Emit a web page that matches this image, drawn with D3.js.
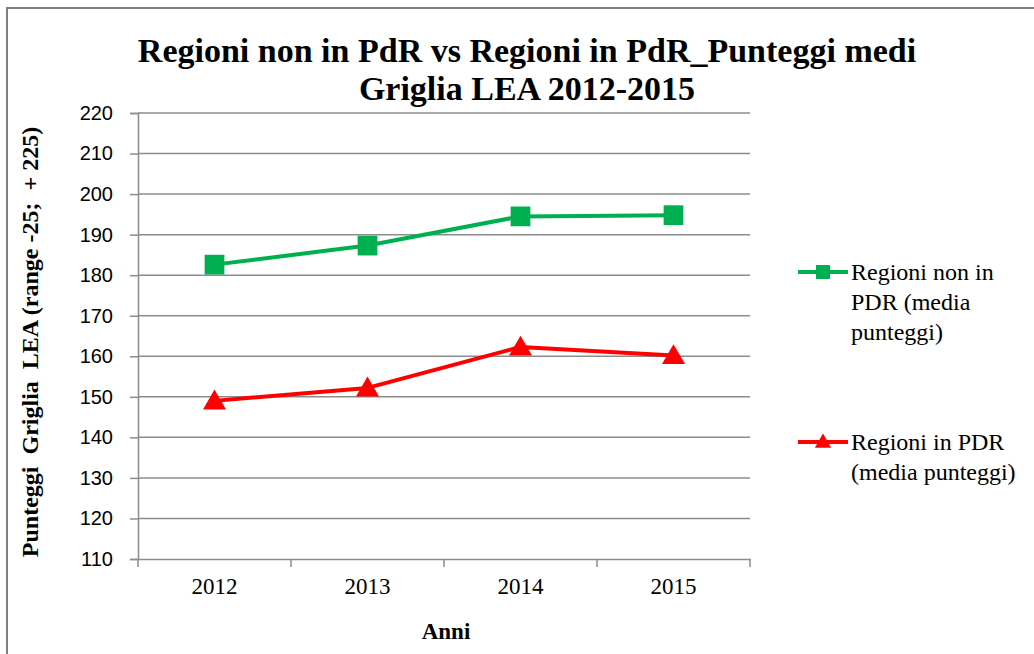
<!DOCTYPE html>
<html>
<head>
<meta charset="utf-8">
<script src="https://cdn.jsdelivr.net/npm/d3@7"></script>
<style>
  body { margin: 0; background: #fff; }
  svg { display: block; }
</style>
</head>
<body>
<div id="chart"></div>
<script>
// Data
const years = ["2012", "2013", "2014", "2015"];
const nonPdr = [182.6, 187.3, 194.5, 194.8];
const inPdr = [149.0, 152.2, 162.3, 160.2];
const yTicks = [110, 120, 130, 140, 150, 160, 170, 180, 190, 200, 210, 220];

const W = 1034, H = 654;
const margin = { top: 113, left: 138, right: 1034 - 750, bottom: 654 - 559 };
const width = W - margin.left - margin.right;
const height = H - margin.top - margin.bottom;

const serifFont = "Liberation Serif";
const sansFont = "Liberation Sans";
const gridColor = "#8c8c8c";

const svg = d3.select("#chart").append("svg")
  .attr("width", W)
  .attr("height", H);

// outer frame
svg.append("rect")
  .attr("x", 7).attr("y", 8)
  .attr("width", W + 10).attr("height", H + 10)
  .attr("fill", "none")
  .attr("stroke", "#808080")
  .attr("stroke-width", 2);

const g = svg.append("g")
  .attr("transform", `translate(${margin.left},${margin.top})`);

const x = d3.scaleBand().domain(years).range([0, width]);
const y = d3.scaleLinear().domain([110, 220]).range([height, 0]);

// horizontal gridlines
g.selectAll(".grid")
  .data(yTicks.filter(d => d !== 110))
  .enter().append("line")
  .attr("class", "grid")
  .attr("x1", 0).attr("x2", width)
  .attr("y1", d => y(d)).attr("y2", d => y(d))
  .attr("stroke", gridColor)
  .attr("stroke-width", 1.5);

// y axis
const yAxis = g.append("g")
  .call(d3.axisLeft(y).tickValues(yTicks).tickSize(8).tickPadding(17));
yAxis.select(".domain").attr("stroke", gridColor).attr("stroke-width", 1.5);
yAxis.selectAll(".tick line").attr("stroke", gridColor).attr("stroke-width", 1.5);
yAxis.selectAll("text")
  .style("font-family", sansFont)
  .style("font-size", "20px")
  .attr("fill", "#000");

// x axis
const xAxis = g.append("g")
  .attr("transform", `translate(0,${height})`)
  .call(d3.axisBottom(x).tickSize(0).tickPadding(19));
xAxis.select(".domain").attr("stroke", gridColor).attr("stroke-width", 1.5);
xAxis.selectAll("text")
  .style("font-family", serifFont)
  .style("font-size", "23px")
  .attr("fill", "#000");
// category boundary ticks
g.selectAll(".xtick")
  .data(years.map(d => x(d)).concat([width]))
  .enter().append("line")
  .attr("x1", d => d).attr("x2", d => d)
  .attr("y1", height).attr("y2", height + 8)
  .attr("stroke", gridColor)
  .attr("stroke-width", 1.5);

const cx = d => x(d) + x.bandwidth() / 2;

const series = [
  { name: ["Regioni non in", "PDR (media", "punteggi)"], values: nonPdr, color: "#00b050", shape: d3.symbolSquare, size: 390, legendY: 272 },
  { name: ["Regioni in PDR", "(media punteggi)"], values: inPdr, color: "#ff0000", shape: d3.symbolTriangle, size: 230, legendY: 442 }
];

const line = d3.line().x((d, i) => cx(years[i])).y(d => y(d));

series.forEach(s => {
  g.append("path")
    .datum(s.values)
    .attr("d", line)
    .attr("fill", "none")
    .attr("stroke", s.color)
    .attr("stroke-width", 4)
    .attr("stroke-linejoin", "round");
  g.selectAll(null)
    .data(s.values)
    .enter().append("path")
    .attr("d", d3.symbol().type(s.shape).size(s.size))
    .attr("transform", (d, i) => `translate(${cx(years[i])},${y(d) + (s.shape === d3.symbolTriangle ? 2 : 0)})`)
    .attr("fill", s.color);

  // legend
  const lg = svg.append("g").attr("transform", `translate(798,${s.legendY})`);
  lg.append("line")
    .attr("x1", 0).attr("x2", 50)
    .attr("stroke", s.color).attr("stroke-width", 4);
  lg.append("path")
    .attr("d", d3.symbol().type(s.shape).size(s.size * 0.5))
    .attr("transform", `translate(25,${s.shape === d3.symbolTriangle ? 1 : 0})`)
    .attr("fill", s.color);
  lg.selectAll("text")
    .data(s.name)
    .enter().append("text")
    .attr("x", 53)
    .attr("y", (d, i) => i * 30 + 8)
    .style("font-family", serifFont)
    .style("font-size", "24px")
    .attr("fill", "#000")
    .text(d => d);
});

// title
const titleLines = ["Regioni non in PdR vs Regioni in PdR_Punteggi medi", "Griglia LEA 2012-2015"];
svg.selectAll(".title")
  .data(titleLines)
  .enter().append("text")
  .attr("class", "title")
  .attr("x", 527)
  .attr("y", (d, i) => 62 + i * 38)
  .attr("text-anchor", "middle")
  .style("font-family", serifFont)
  .style("font-weight", "bold")
  .style("font-size", "34px")
  .text(d => d);

// axis titles
svg.append("text")
  .attr("transform", "translate(38,342) rotate(-90)")
  .attr("text-anchor", "middle")
  .style("font-family", serifFont)
  .style("font-weight", "bold")
  .style("font-size", "24px")
  .style("white-space", "pre")
  .text("Punteggi  Griglia  LEA (range -25;  + 225)");
svg.append("text")
  .attr("x", 446).attr("y", 639)
  .attr("text-anchor", "middle")
  .style("font-family", serifFont)
  .style("font-weight", "bold")
  .style("font-size", "23px")
  .text("Anni");
</script>
</body>
</html>
